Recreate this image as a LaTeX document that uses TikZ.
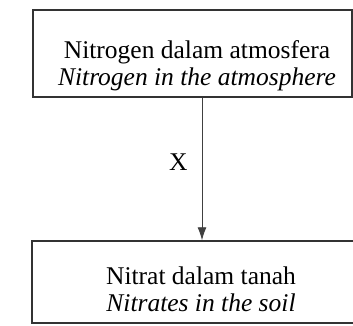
\documentclass[tikz,border=0pt]{standalone}
\usepackage{fontspec}
\setmainfont{Liberation Serif}
\usetikzlibrary{positioning,arrows.meta}

\begin{document}
\begin{tikzpicture}[x=1pt, y=1pt, >={Latex[length=13pt,width=9pt]},
  every node/.style={font=\fontsize{25.5}{27}\selectfont, inner sep=0pt},
  box/.style={draw=black!80, line width=1.4pt},
  txt/.style={align=center, text=black}]
  \useasboundingbox (0,0) rectangle (353,326);
  \node[box, minimum width=319, minimum height=87] (air) at (192.5,272.5) {};
  \node[box, minimum width=330, minimum height=82] (tanah) at (197,44) {};
  \node[txt] (airtxt) at (197,260) {Nitrogen dalam atmosfera\\\textit{Nitrogen in the atmosphere}};
  \node[txt] (tanahtxt) at (201,37) {Nitrat dalam tanah\\\textit{Nitrates in the soil}};
  \draw[->, black!75, line width=0.9pt] ([xshift=9.5pt]air.south) -- node[pos=0.45, left=14pt, text=black]{X} ([xshift=5pt]tanah.north);
\end{tikzpicture}
\end{document}
